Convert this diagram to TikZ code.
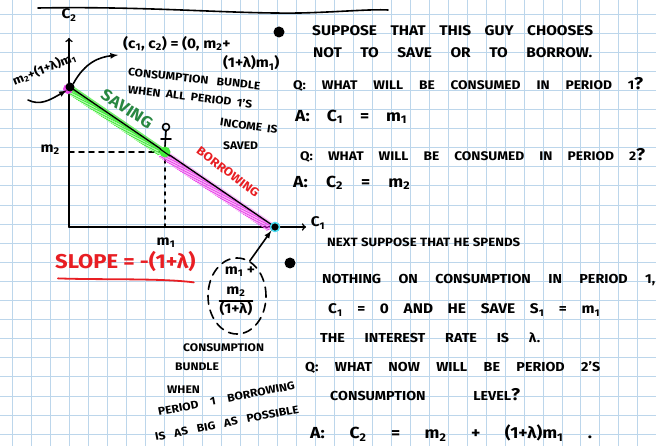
\documentclass[tikz,border=0pt]{standalone}
\usepackage{fontspec}
\setmainfont{Fira Sans}[FakeStretch=1.1]
\usepackage{tikz}
\usetikzlibrary{calc}
\usetikzlibrary{positioning}
\usetikzlibrary{shapes.geometric}
\usetikzlibrary{decorations.pathreplacing}

\definecolor{gridblue}{RGB}{188,214,235}
\definecolor{savegreen}{RGB}{70,235,60}
\definecolor{savetext}{RGB}{40,135,65}
\definecolor{borrowred}{RGB}{232,30,35}
\definecolor{hatchpink}{RGB}{235,70,235}
\definecolor{cyanring}{RGB}{70,220,240}

\newcommand{\spreadline}[2]{\makebox[#2][s]{#1}}
\newcommand{\sub}[1]{\textsubscript{#1}}
\newcommand{\fs}[1]{\bfseries\fontsize{#1}{#1}\selectfont}

\begin{document}
\begin{tikzpicture}[
        x=1pt, y=-1pt,
        line cap=round,
        line join=round,
        hand/.style={font=\fs{14}, inner sep=0pt, anchor=west},
        small/.style={font=\fs{11}, inner sep=0pt, anchor=west},
        pen/.style={line width=1.6pt},
        v/.style={circle, fill, inner sep=0pt, minimum size=9pt},
        gridline/.style={gridblue, line width=0.9pt}
    ]
        % foglio a quadretti
        \fill[white] (0,0) rectangle (656,446);
        \useasboundingbox (0,0) rectangle (656,446);
        \foreach \i in {0,...,34}{
            \draw[gridline] ({12.7+18.94*\i},0) -- ++(0,446);
        }
        \foreach \j in {0,...,23}{
            \draw[gridline] (0,{14+19.1*\j}) -- ++(656,0);
        }
        \draw[pen] (38,8) .. controls (150,6) and (230,14) .. (300,13)
            .. controls (340,12) and (370,9) .. (388,10);

        % assi
        \begin{scope}
            \coordinate (o) at (69,227);
            \coordinate (ytop) at (69,38);
            \coordinate (xend) at (306,227);
            \draw[pen,->] (o) -- (ytop);
            \draw[pen,->] (o) -- (xend);
            \node[hand, anchor=center] (ctwo) at (69,15) {C\sub{2}};
            \node[hand, anchor=center] (cone) at (318,223) {C\sub{1}};

            \coordinate (pA) at (70,87);
            \coordinate (pE) at (165,152);
            \coordinate (pB) at (275,227);

            % tratteggi
            \draw[pen, dash pattern=on 5pt off 5pt] (69,152) -- (pE);
            \draw[pen, dash pattern=on 3pt off 5pt] (pE) -- (165,227);
            \node[hand, anchor=east] (mtwo) at (60,150) {m\sub{2}};
            \node[hand, anchor=center] (mone) at (166,243) {m\sub{1}};

            % risparmio / indebitamento
            \draw[savegreen, line width=5pt, opacity=0.75] (pA) -- (pE);
            \draw[savegreen, line width=0.9pt, decorate,
                decoration={border, segment length=2pt, amplitude=8pt, angle=55}] (pE) -- (pA);
            \draw[hatchpink, line width=4pt, opacity=0.35, shift={(-1.5,2)}] (pE) -- (pB);
            \draw[hatchpink, line width=0.9pt, decorate,
                decoration={border, segment length=2pt, amplitude=9pt, angle=55}] (pB) -- (pE);
            \draw[line width=1.3pt] (pA) -- (pB);

            \fill[hatchpink] (pA) ++(-2,2) circle (5);
            \node[v] (dot-pA) at (pA) {};
            \node[v, fill=savegreen, minimum size=11pt] (dot-pE) at (pE) {};
            \draw[line width=1.1pt] ($(pE)+(-5,-3)$) -- ($(pE)+(5,4)$);
            \node[v, draw=cyanring, line width=1.5pt] (dot-pB) at (pB) {};

            % segnaposto sul punto di dotazione
            \draw[pen] (166,127) circle (3.5);
            \draw[pen] (166,131) -- (dot-pE.north);
            \draw[pen] (161,139) -- (171,139);

            \node[font=\fs{16}, text=savetext, rotate=-33] (saving) at (127,109) {SAVING};
            \node[font=\fs{12}, text=borrowred, rotate=-37] (borrowing) at (228,172) {BORROWING};
        \end{scope}

        % intercetta verticale
        \begin{scope}
            \node[small, font=\fs{12}, anchor=center, rotate=22] (intercept) at (44,69) {m\sub{2}+(1+λ)m\sub{1}};
            \coordinate (tailI) at (28,100);
            \draw[pen,-latex] (tailI) .. controls (40,106) and (50,100) .. (dot-pA.south west);

            \node[hand] (bundle) at (123,44) {(c\sub{1}, c\sub{2}) = (0, m\sub{2}+};
            \node[hand] (bundleb) at (223,63) {(1+λ)m\sub{1})};
            \coordinate (tipA) at (118,55);
            \draw[pen,-latex] (dot-pA.north east) .. controls (85,62) and (100,57) .. (tipA);

            \node[small, rotate=-6] (cs1) at (128,72) {\spreadline{CONSUMPTION BUNDLE}{133pt}};
            \node[small, rotate=-7] (cs2) at (128,89) {\spreadline{WHEN ALL PERIOD 1'S}{125pt}};
            \node[small, rotate=-8] (cs3) at (220,122) {\spreadline{INCOME IS}{58pt}};
            \node[small] (cs4) at (223,146) {SAVED};
        \end{scope}

        % pendenza e intercetta orizzontale
        \begin{scope}
            \node[font=\fs{20}, text=borrowred, inner sep=0pt, anchor=west] (slope) at (55,262) {SLOPE = -(1+λ)};
            \draw[borrowred, line width=1.8pt] ($(slope.south west)+(3,6)$) .. controls (100,280) and (160,278) .. ($(slope.south east)+(-2,10)$);

            \node[draw, ellipse, pen, dash pattern=on 9pt off 6pt, minimum width=58pt, minimum height=76pt] (sumbox) at (237,296) {};
            \node[hand, anchor=center] (sumtop) at (240,272) {m\sub{1} +};
            \node[hand, anchor=center] (sumnum) at (236,292) {m\sub{2}};
            \node[hand, anchor=north, below=4pt of sumnum] (sumden) {(1+λ)};
            \draw[pen] (sumden.north west) -- (sumden.north east);
            \draw[pen,-latex] (sumbox.70) -- (dot-pB.south west);

            \node[small] (cb1) at (183,348) {CONSUMPTION};
            \node[small] (cb2) at (175,367) {BUNDLE};
            \node[small] (cb3) at (167,390) {WHEN};
            \node[small, rotate=11] (cb4) at (158,412) {\spreadline{PERIOD 1 BORROWING}{139pt}};
            \node[small, rotate=11] (cb5) at (155,437) {\spreadline{IS AS BIG AS POSSIBLE}{146pt}};
        \end{scope}

        % prima domanda
        \begin{scope}
            \node[v, minimum size=11pt] (bullet1) at (279,32) {};
            \node[hand] (sup1) at (312,31) {\spreadline{SUPPOSE THAT THIS GUY CHOOSES}{281pt}};
            \node[hand] (sup2) at (313,53) {\spreadline{NOT TO SAVE OR TO BORROW.}{279pt}};
            \node[hand, font=\fs{12.5}] (q1) at (293,84) {\spreadline{Q: WHAT WILL BE CONSUMED IN PERIOD 1\fs{17}?}{350pt}};
            \node[hand, font=\fs{16}] (a1) at (295,117) {\spreadline{A: C\sub{1} = m\sub{1}}{112pt}};
            \node[hand, font=\fs{12.5}] (q2) at (300,155) {\spreadline{Q: WHAT WILL BE CONSUMED IN PERIOD 2\fs{17}?}{345pt}};
            \node[hand, font=\fs{16}] (a2) at (293,183) {\spreadline{A: C\sub{2} = m\sub{2}}{117pt}};
        \end{scope}

        % seconda domanda
        \begin{scope}
            \node[v, minimum size=11pt] (bullet2) at (290,263) {};
            \node[hand, font=\fs{12}] (n1) at (327,242) {\spreadline{NEXT SUPPOSE THAT HE SPENDS}{193pt}};
            \node[hand, font=\fs{13}] (n2) at (322,280) {\spreadline{NOTHING ON CONSUMPTION IN PERIOD 1,}{333pt}};
            \node[hand] (n3) at (328,310) {\spreadline{C\sub{1} = 0 AND HE SAVE S\sub{1} = m\sub{1}}{272pt}};
            \node[hand, font=\fs{13}] (n4) at (320,338) {\spreadline{THE INTEREST RATE IS λ.}{220pt}};
            \node[hand, font=\fs{13}] (n5) at (305,367) {\spreadline{Q: WHAT NOW WILL BE PERIOD 2'S}{295pt}};
            \node[hand, font=\fs{13}] (n6) at (330,395) {\spreadline{CONSUMPTION LEVEL\fs{17}?}{190pt}};
            \node[hand, font=\fs{16}] (n7) at (310,433) {\spreadline{A: C\sub{2} = m\sub{2} + (1+λ)m\sub{1} .}{282pt}};
        \end{scope}
    \end{tikzpicture}
\end{document}
